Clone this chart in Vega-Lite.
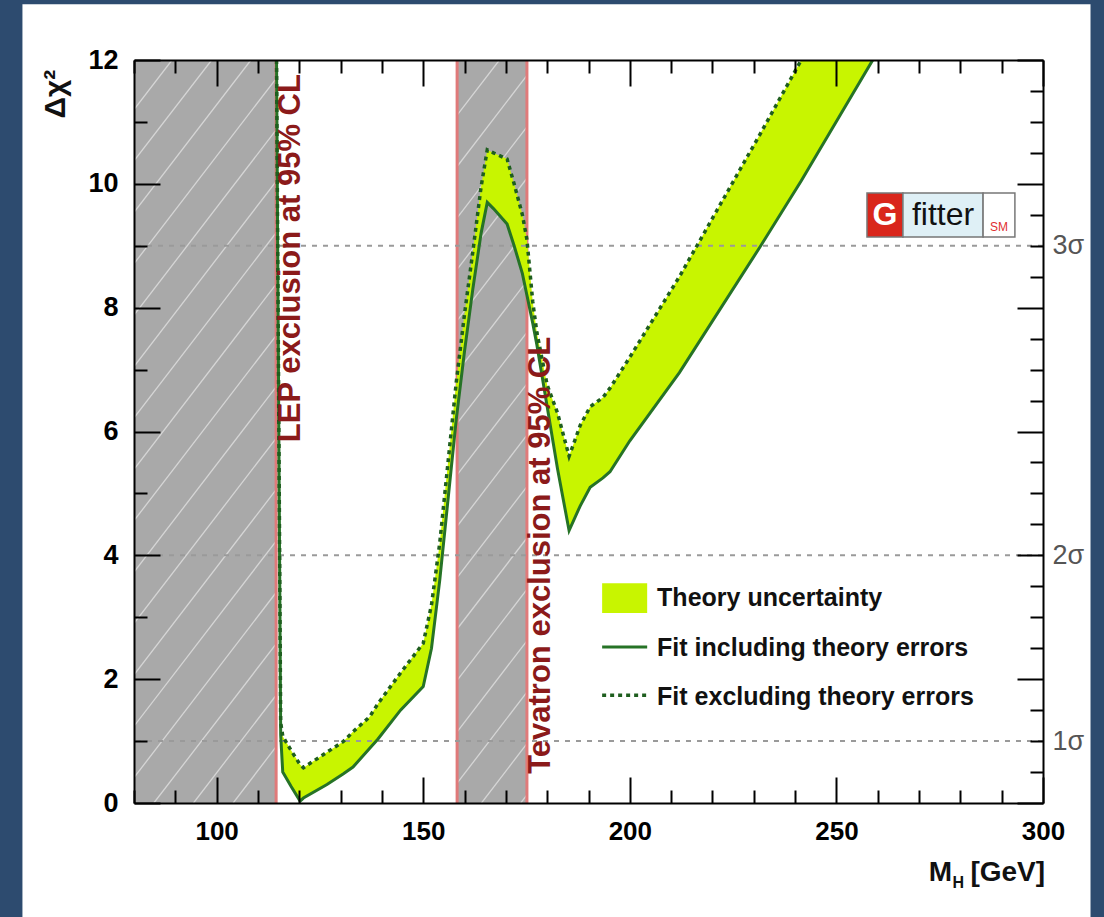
{
  "$schema": "https://vega.github.io/schema/vega-lite/v6.json",
  "width": 909,
  "height": 743,
  "autosize": {"type": "none"},
  "padding": {"left": 134, "top": 60, "right": 61, "bottom": 114},
  "background": "#2d4b6f",
  "config": {"view": {"stroke": null}},
  "datasets": {
    "fit": [
      {"m": 114.5, "incl": 12, "excl": 12},
      {"m": 115.5, "incl": 1.1, "excl": 1.3},
      {"m": 116.0, "incl": 0.5, "excl": 1.08},
      {"m": 118.0, "incl": 0.27, "excl": 0.85},
      {"m": 120.2, "incl": 0.03, "excl": 0.62},
      {"m": 121.0, "incl": 0.08, "excl": 0.57},
      {"m": 126.7, "incl": 0.3, "excl": 0.82},
      {"m": 130.6, "incl": 0.47, "excl": 0.99},
      {"m": 133.0, "incl": 0.58, "excl": 1.15},
      {"m": 137.0, "incl": 0.88, "excl": 1.39},
      {"m": 139.0, "incl": 1.03, "excl": 1.6},
      {"m": 144.5, "incl": 1.5, "excl": 2.1},
      {"m": 150.0, "incl": 1.88, "excl": 2.58},
      {"m": 152.0, "incl": 2.5, "excl": 3.2},
      {"m": 154.0, "incl": 3.6, "excl": 4.2},
      {"m": 156.0, "incl": 4.9, "excl": 5.5},
      {"m": 158.0, "incl": 6.2, "excl": 6.8},
      {"m": 160.0, "incl": 7.3, "excl": 7.9},
      {"m": 162.0, "incl": 8.3, "excl": 8.9},
      {"m": 164.0, "incl": 9.2, "excl": 9.95},
      {"m": 165.5, "incl": 9.7, "excl": 10.55},
      {"m": 167.0, "incl": 9.6, "excl": 10.5},
      {"m": 170.3, "incl": 9.35, "excl": 10.4},
      {"m": 172.0, "incl": 9.0, "excl": 10.0},
      {"m": 174.0, "incl": 8.55, "excl": 9.5},
      {"m": 175.1, "incl": 8.2, "excl": 9.1},
      {"m": 176.5, "incl": 7.75, "excl": 8.1},
      {"m": 177.5, "incl": 7.4, "excl": 7.6},
      {"m": 180.0, "incl": 6.4, "excl": 6.75},
      {"m": 182.5, "incl": 5.4, "excl": 6.3},
      {"m": 185.3, "incl": 4.4, "excl": 5.6},
      {"m": 188.0, "incl": 4.8, "excl": 6.1},
      {"m": 190.4, "incl": 5.1, "excl": 6.4},
      {"m": 193.5, "incl": 5.25, "excl": 6.55},
      {"m": 195.2, "incl": 5.35, "excl": 6.7},
      {"m": 200.0, "incl": 5.85, "excl": 7.2},
      {"m": 212.0, "incl": 6.95, "excl": 8.5},
      {"m": 231.5, "incl": 8.98, "excl": 10.8},
      {"m": 241.5, "incl": 10.05, "excl": 12.0},
      {"m": 258.8, "incl": 12.0, "excl": 14.0}
    ],
    "hatch": [
      {"x1": 80, "y1": 11.2, "x2": 89.2, "y2": 12},
      {"x1": 80, "y1": 10.37, "x2": 98.8, "y2": 12},
      {"x1": 80, "y1": 9.54, "x2": 108.3, "y2": 12},
      {"x1": 80, "y1": 8.71, "x2": 114.4, "y2": 11.7},
      {"x1": 80, "y1": 7.88, "x2": 114.4, "y2": 10.87},
      {"x1": 80, "y1": 7.05, "x2": 114.4, "y2": 10.04},
      {"x1": 80, "y1": 6.22, "x2": 114.4, "y2": 9.21},
      {"x1": 80, "y1": 5.39, "x2": 114.4, "y2": 8.38},
      {"x1": 80, "y1": 4.56, "x2": 114.4, "y2": 7.55},
      {"x1": 80, "y1": 3.73, "x2": 114.4, "y2": 6.72},
      {"x1": 80, "y1": 2.9, "x2": 114.4, "y2": 5.89},
      {"x1": 80, "y1": 2.07, "x2": 114.4, "y2": 5.06},
      {"x1": 80, "y1": 1.24, "x2": 114.4, "y2": 4.23},
      {"x1": 80, "y1": 0.41, "x2": 114.4, "y2": 3.4},
      {"x1": 84.8, "y1": 0, "x2": 114.4, "y2": 2.57},
      {"x1": 94.4, "y1": 0, "x2": 114.4, "y2": 1.74},
      {"x1": 104.0, "y1": 0, "x2": 114.4, "y2": 0.91},
      {"x1": 158.2, "y1": 11.11, "x2": 168.45, "y2": 12},
      {"x1": 158.2, "y1": 10.28, "x2": 175.1, "y2": 11.75},
      {"x1": 158.2, "y1": 9.45, "x2": 175.1, "y2": 10.92},
      {"x1": 158.2, "y1": 8.62, "x2": 175.1, "y2": 10.09},
      {"x1": 158.2, "y1": 7.79, "x2": 175.1, "y2": 9.26},
      {"x1": 158.2, "y1": 6.96, "x2": 175.1, "y2": 8.43},
      {"x1": 158.2, "y1": 6.13, "x2": 175.1, "y2": 7.6},
      {"x1": 158.2, "y1": 5.3, "x2": 175.1, "y2": 6.77},
      {"x1": 158.2, "y1": 4.47, "x2": 175.1, "y2": 5.94},
      {"x1": 158.2, "y1": 3.64, "x2": 175.1, "y2": 5.11},
      {"x1": 158.2, "y1": 2.81, "x2": 175.1, "y2": 4.28},
      {"x1": 158.2, "y1": 1.98, "x2": 175.1, "y2": 3.45},
      {"x1": 158.2, "y1": 1.15, "x2": 175.1, "y2": 2.62},
      {"x1": 158.2, "y1": 0.32, "x2": 175.1, "y2": 1.79},
      {"x1": 164.1, "y1": 0, "x2": 175.1, "y2": 0.96},
      {"x1": 173.6, "y1": 0, "x2": 175.1, "y2": 0.13}
    ]
  },
  "layer": [
    {
      "layer": [
        {
          "data": {"values": [{"x1": 53, "x2": 311.5, "y1": -2.3, "y2": 12.9}]},
          "mark": {"type": "rect", "color": "white"},
          "encoding": {
            "x": {"field": "x1", "type": "quantitative", "scale": {"domain": [80, 300], "nice": false, "zero": false},
              "axis": {"title": null, "orient": "bottom", "zindex": 1,
                "values": [80, 90, 100, 110, 120, 130, 140, 150, 160, 170, 180, 190, 200, 210, 220, 230, 240, 250, 260, 270, 280, 290, 300],
                "domain": true, "domainColor": "black", "domainWidth": 2, "grid": false,
                "tickColor": "black", "tickWidth": 2,
                "tickSize": {"condition": {"test": "datum.value % 50 === 0", "value": -26}, "value": -13},
                "labelExpr": "datum.value % 50 === 0 ? format(datum.value, 'd') : ''",
                "labelFont": "Liberation Sans", "labelFontWeight": "bold", "labelFontSize": 26, "labelColor": "black",
                "labelPadding": 41, "labelFlush": false, "labelOverlap": false}},
            "x2": {"field": "x2"},
            "y": {"field": "y1", "type": "quantitative", "scale": {"domain": [0, 12], "nice": false, "zero": false},
              "axis": {"title": null, "orient": "left", "zindex": 1,
                "values": [0, 0.5, 1, 1.5, 2, 2.5, 3, 3.5, 4, 4.5, 5, 5.5, 6, 6.5, 7, 7.5, 8, 8.5, 9, 9.5, 10, 10.5, 11, 11.5, 12],
                "domain": true, "domainColor": "black", "domainWidth": 2, "grid": false,
                "tickColor": "black", "tickWidth": 2,
                "tickSize": {"condition": {"test": "datum.value % 2 === 0", "value": -26}, "value": -13},
                "labelExpr": "datum.value % 2 === 0 ? format(datum.value, 'd') : ''",
                "labelFont": "Liberation Sans", "labelFontWeight": "bold", "labelFontSize": 27, "labelColor": "black",
                "labelPadding": 42, "labelFlush": false, "labelOverlap": false}},
            "y2": {"field": "y2"}
          }
        },
        {
          "data": {"values": [{"lo": 80, "hi": 114.4}, {"lo": 158.2, "hi": 175.1}]},
          "mark": {"type": "rect", "color": "#a9a9a9"},
          "encoding": {
            "x": {"field": "lo", "type": "quantitative", "scale": {"domain": [80, 300]}},
            "x2": {"field": "hi"},
            "y": {"datum": 0, "type": "quantitative", "scale": {"domain": [0, 12]}},
            "y2": {"datum": 12}
          }
        },
        {
          "data": {"name": "hatch"},
          "mark": {"type": "rule", "color": "#d6d6d6", "strokeWidth": 1.3, "clip": true},
          "encoding": {
            "x": {"field": "x1", "type": "quantitative", "scale": {"domain": [80, 300]}},
            "x2": {"field": "x2"},
            "y": {"field": "y1", "type": "quantitative", "scale": {"domain": [0, 12]}},
            "y2": {"field": "y2"}
          }
        },
        {
          "data": {"values": [{"m": 114.4}, {"m": 158.2}, {"m": 175.1}]},
          "mark": {"type": "rule", "color": "#e07a7a", "strokeWidth": 3},
          "encoding": {
            "x": {"field": "m", "type": "quantitative", "scale": {"domain": [80, 300]}}
          }
        },
        {
          "data": {"name": "fit"},
          "mark": {"type": "area", "color": "#c8f500", "opacity": 1, "clip": true},
          "encoding": {
            "x": {"field": "m", "type": "quantitative", "scale": {"domain": [80, 300]}},
            "y": {"field": "excl", "type": "quantitative", "scale": {"domain": [0, 12]}},
            "y2": {"field": "incl"}
          }
        },
        {
          "data": {"values": [{"v": 1}, {"v": 4}, {"v": 9}]},
          "mark": {"type": "rule", "color": "#9a9a9a", "strokeWidth": 2, "strokeDash": [5, 6]},
          "encoding": {
            "y": {"field": "v", "type": "quantitative", "scale": {"domain": [0, 12]}}
          }
        },
        {
          "data": {"name": "fit"},
          "mark": {"type": "line", "color": "#267326", "strokeWidth": 3, "clip": true},
          "encoding": {
            "x": {"field": "m", "type": "quantitative", "scale": {"domain": [80, 300]}},
            "y": {"field": "incl", "type": "quantitative", "scale": {"domain": [0, 12]}}
          }
        },
        {
          "data": {"name": "fit"},
          "mark": {"type": "line", "color": "#1e5e1e", "strokeWidth": 3.5, "strokeDash": [4, 4], "clip": true},
          "encoding": {
            "x": {"field": "m", "type": "quantitative", "scale": {"domain": [80, 300]}},
            "y": {"field": "excl", "type": "quantitative", "scale": {"domain": [0, 12]}}
          }
        },
        {
          "data": {"values": [
            {"t": "LEP exclusion at 95% CL", "m": 118.0, "v": 8.8},
            {"t": "Tevatron exclusion at 95% CL", "m": 178.5, "v": 4.0}
          ]},
          "mark": {"type": "text", "angle": 270, "align": "center", "baseline": "middle", "font": "Liberation Sans", "fontWeight": "bold", "fontSize": 31, "color": "#8b1a1a"},
          "encoding": {
            "x": {"field": "m", "type": "quantitative", "scale": {"domain": [80, 300]}},
            "y": {"field": "v", "type": "quantitative", "scale": {"domain": [0, 12]}},
            "text": {"field": "t"}
          }
        },
        {
          "data": {"values": [{"x1": 193.3, "x2": 204.2, "y1": 3.07, "y2": 3.55}]},
          "mark": {"type": "rect", "color": "#c8f500"},
          "encoding": {
            "x": {"field": "x1", "type": "quantitative", "scale": {"domain": [80, 300]}},
            "x2": {"field": "x2"},
            "y": {"field": "y1", "type": "quantitative", "scale": {"domain": [0, 12]}},
            "y2": {"field": "y2"}
          }
        },
        {
          "data": {"values": [{"x1": 193.3, "x2": 204.2, "v": 2.52}]},
          "mark": {"type": "rule", "color": "#267326", "strokeWidth": 3},
          "encoding": {
            "x": {"field": "x1", "type": "quantitative", "scale": {"domain": [80, 300]}},
            "x2": {"field": "x2"},
            "y": {"field": "v", "type": "quantitative", "scale": {"domain": [0, 12]}}
          }
        },
        {
          "data": {"values": [{"x1": 193.3, "x2": 204.2, "v": 1.74}]},
          "mark": {"type": "rule", "color": "#1e5e1e", "strokeWidth": 3.5, "strokeDash": [4, 4]},
          "encoding": {
            "x": {"field": "x1", "type": "quantitative", "scale": {"domain": [80, 300]}},
            "x2": {"field": "x2"},
            "y": {"field": "v", "type": "quantitative", "scale": {"domain": [0, 12]}}
          }
        },
        {
          "data": {"values": [
            {"t": "Theory uncertainty", "m": 206.6, "v": 3.31},
            {"t": "Fit including theory errors", "m": 206.6, "v": 2.5},
            {"t": "Fit excluding theory errors", "m": 206.6, "v": 1.71}
          ]},
          "mark": {"type": "text", "align": "left", "baseline": "middle", "font": "Liberation Sans", "fontWeight": "bold", "fontSize": 25, "color": "#111111"},
          "encoding": {
            "x": {"field": "m", "type": "quantitative", "scale": {"domain": [80, 300]}},
            "y": {"field": "v", "type": "quantitative", "scale": {"domain": [0, 12]}},
            "text": {"field": "t"}
          }
        },
        {
          "data": {"values": [
            {"x1": 257.4, "x2": 266.1, "y1": 9.14, "y2": 9.85, "k": "g"},
            {"x1": 266.1, "x2": 285.5, "y1": 9.14, "y2": 9.85, "k": "f"},
            {"x1": 285.5, "x2": 293.2, "y1": 9.14, "y2": 9.85, "k": "s"}
          ]},
          "mark": {"type": "rect", "stroke": "#777777", "strokeWidth": 1.5},
          "encoding": {
            "x": {"field": "x1", "type": "quantitative", "scale": {"domain": [80, 300]}},
            "x2": {"field": "x2"},
            "y": {"field": "y1", "type": "quantitative", "scale": {"domain": [0, 12]}},
            "y2": {"field": "y2"},
            "color": {"field": "k", "type": "nominal", "scale": {"domain": ["g", "f", "s"], "range": ["#d9261c", "#dff0f6", "#ffffff"]}, "legend": null}
          }
        },
        {
          "data": {"values": [{"t": "G", "m": 261.75, "v": 9.49}]},
          "mark": {"type": "text", "align": "center", "baseline": "middle", "font": "Liberation Sans", "fontWeight": "bold", "fontSize": 32, "color": "white"},
          "encoding": {
            "x": {"field": "m", "type": "quantitative", "scale": {"domain": [80, 300]}},
            "y": {"field": "v", "type": "quantitative", "scale": {"domain": [0, 12]}},
            "text": {"field": "t"}
          }
        },
        {
          "data": {"values": [{"t": "fitter", "m": 275.8, "v": 9.5}]},
          "mark": {"type": "text", "align": "center", "baseline": "middle", "font": "Liberation Sans", "fontSize": 32, "color": "#111111"},
          "encoding": {
            "x": {"field": "m", "type": "quantitative", "scale": {"domain": [80, 300]}},
            "y": {"field": "v", "type": "quantitative", "scale": {"domain": [0, 12]}},
            "text": {"field": "t"}
          }
        },
        {
          "data": {"values": [{"t": "SM", "m": 289.35, "v": 9.3}]},
          "mark": {"type": "text", "align": "center", "baseline": "middle", "font": "Liberation Sans", "fontSize": 12, "color": "#e03030"},
          "encoding": {
            "x": {"field": "m", "type": "quantitative", "scale": {"domain": [80, 300]}},
            "y": {"field": "v", "type": "quantitative", "scale": {"domain": [0, 12]}},
            "text": {"field": "t"}
          }
        },
        {
          "data": {"values": [{"t": "Δχ²", "m": 61.1, "v": 11.45}]},
          "mark": {"type": "text", "angle": 270, "align": "center", "baseline": "middle", "font": "Liberation Sans", "fontWeight": "bold", "fontSize": 30, "color": "#111111"},
          "encoding": {
            "x": {"field": "m", "type": "quantitative", "scale": {"domain": [80, 300]}},
            "y": {"field": "v", "type": "quantitative", "scale": {"domain": [0, 12]}},
            "text": {"field": "t"}
          }
        },
        {
          "data": {"values": [{"t": "M", "m": 278.0, "v": -1.13}, {"t": "[GeV]", "m": 300.5, "v": -1.13}]},
          "mark": {"type": "text", "align": "right", "baseline": "middle", "font": "Liberation Sans", "fontWeight": "bold", "fontSize": 28, "color": "#111111"},
          "encoding": {
            "x": {"field": "m", "type": "quantitative", "scale": {"domain": [80, 300]}},
            "y": {"field": "v", "type": "quantitative", "scale": {"domain": [0, 12]}},
            "text": {"field": "t"}
          }
        },
        {
          "data": {"values": [{"t": "H", "m": 278.1, "v": -1.3}]},
          "mark": {"type": "text", "align": "left", "baseline": "middle", "font": "Liberation Sans", "fontWeight": "bold", "fontSize": 16, "color": "#111111"},
          "encoding": {
            "x": {"field": "m", "type": "quantitative", "scale": {"domain": [80, 300]}},
            "y": {"field": "v", "type": "quantitative", "scale": {"domain": [0, 12]}},
            "text": {"field": "t"}
          }
        }
      ]
    },
    {
      "data": {"values": [{"m": 200, "v": 6}]},
      "mark": {"type": "point", "opacity": 0},
      "encoding": {
        "x": {"field": "m", "type": "quantitative", "scale": {"domain": [80, 300], "nice": false, "zero": false},
          "axis": {"title": null, "orient": "top", "zindex": 1,
            "values": [80, 90, 100, 110, 120, 130, 140, 150, 160, 170, 180, 190, 200, 210, 220, 230, 240, 250, 260, 270, 280, 290, 300],
            "domain": true, "domainColor": "black", "domainWidth": 2, "grid": false,
            "tickColor": "black", "tickWidth": 2,
            "tickSize": {"condition": {"test": "datum.value % 50 === 0", "value": -26}, "value": -13},
            "labels": false}},
        "y": {"field": "v", "type": "quantitative", "scale": {"domain": [0, 12], "nice": false, "zero": false},
          "axis": {"title": null, "orient": "right", "zindex": 1,
            "values": [0, 0.5, 1, 1.5, 2, 2.5, 3, 3.5, 4, 4.5, 5, 5.5, 6, 6.5, 7, 7.5, 8, 8.5, 9, 9.5, 10, 10.5, 11, 11.5, 12],
            "domain": true, "domainColor": "black", "domainWidth": 2, "grid": false,
            "tickColor": "black", "tickWidth": 2,
            "tickSize": {"condition": {"test": "datum.value % 2 === 0", "value": -26}, "value": -13},
            "labelExpr": "datum.value === 1 ? '1σ' : datum.value === 4 ? '2σ' : datum.value === 9 ? '3σ' : ''",
            "labelFont": "Liberation Sans", "labelFontSize": 27, "labelColor": "#555555",
            "labelPadding": {"condition": {"test": "datum.value % 2 === 0", "value": 35}, "value": 22},
            "labelFlush": false, "labelOverlap": false}}
      }
    }
  ],
  "resolve": {"axis": {"x": "independent", "y": "independent"}}
}
